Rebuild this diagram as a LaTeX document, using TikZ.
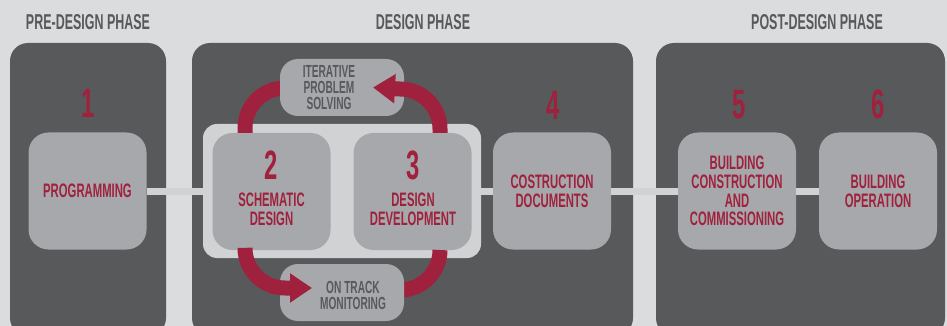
\documentclass[tikz,border=0pt]{standalone}
\usepackage{fontspec}
\setmainfont{Liberation Sans}[FakeStretch=0.58]
\usetikzlibrary{arrows.meta}
\definecolor{bgc}{RGB}{219,220,222}
\definecolor{paneldark}{RGB}{88,89,91}
\definecolor{boxgray}{RGB}{167,168,171}
\definecolor{framegray}{RGB}{209,210,212}
\definecolor{dred}{RGB}{160,33,62}
\definecolor{conngray}{RGB}{209,210,212}
\tikzset{
  panel/.style={fill=paneldark, rounded corners=18pt, inner sep=0pt},
  head/.style={text=paneldark, font=\bfseries\fontsize{21.5}{21.5}\selectfont, inner sep=0pt},
  bigbox/.style={fill=boxgray, rounded corners=20pt, minimum width=118pt, minimum height=117pt,
    inner sep=0pt, text=dred, align=center, font=\bfseries\fontsize{19.5}{18.8}\selectfont},
  boxtext/.style={text=dred, align=center, inner sep=0pt, font=\bfseries\fontsize{19.5}{19}\selectfont},
  num/.style={text=dred, inner sep=0pt, font=\bfseries\fontsize{41}{41}\selectfont},
  framebox/.style={fill=framegray, rounded corners=14pt, minimum width=278pt, minimum height=134pt, inner sep=0pt},
  smallbox/.style={fill=boxgray, rounded corners=18pt, minimum width=124pt, minimum height=57pt, inner sep=0pt},
  smalltext/.style={text=paneldark, align=center, inner sep=0pt, font=\bfseries\fontsize{17.5}{16}\selectfont},
  conn/.style={draw=conngray, line width=7pt},
  loopline/.style={draw=dred, line width=15pt, line cap=butt},
  looparrow/.style={loopline, -{Triangle[length=22pt,width=28pt]}}
}
\begin{document}
\begin{tikzpicture}[x=1pt,y=-1pt]
\useasboundingbox (0,0) rectangle (947,326);
\clip (0,0) rectangle (947,326);
\fill[bgc] (0,0) rectangle (947,326);

% phase panels
\node[panel, minimum width=156pt, minimum height=293pt] (p1) at (88,189.5) {};
\node[panel, minimum width=441pt, minimum height=293pt] (p2) at (412.5,189.5) {};
\node[panel, minimum width=289pt, minimum height=293pt] (p3) at (800.5,189.5) {};

% headers
\node[head] (h1) at (88,22) {PRE-DESIGN PHASE};
\node[head] (h2) at (423,22) {DESIGN PHASE};
\node[head] (h3) at (817,22) {POST-DESIGN PHASE};

% frame around 2 and 3
\node[framebox] (frame) at (342,191) {};

% boxes
\node[bigbox] (prog) at (87.5,191) {PROGRAMMING};
\node[bigbox] (b2) at (271.5,191.5) {};
\node[bigbox] (b3) at (412.5,191.5) {};
\node[bigbox] (b4) at (552,191) {COSTRUCTION\\DOCUMENTS};
\node[bigbox] (b5) at (737,191) {BUILDING\\CONSTRUCTION\\AND\\COMMISSIONING};
\node[bigbox] (b6) at (878,191) {BUILDING\\OPERATION};

% numbers
\node[num] (n1) at (88,103) {1};
\node[num] (n2) at (271,165) {2};
\node[num] (n3) at (413,165) {3};
\node[num] (n4) at (553,105) {4};
\node[num] (n5) at (739,104.5) {5};
\node[num] (n6) at (878,104.5) {6};

\node[boxtext] (t2) at (271.5,209.5) {SCHEMATIC\\DESIGN};
\node[boxtext] (t3) at (413,209.5) {DESIGN\\DEVELOPMENT};

% connectors
\draw[conn] (prog.east) -- (frame.west);
\draw[conn] (frame.east) -- (b4.west);
\draw[conn] (b4.east) -- (b5.west);
\draw[conn] (b5.east) -- (b6.west);

% loop coordinates
\coordinate (c2t) at (245,133);
\coordinate (c2b) at (245,250);
\coordinate (c3t) at (440,133);
\coordinate (c3b) at (440,250);
\coordinate (itL) at (285,88);
\coordinate (otR) at (400,290);

% plain loop parts (ending under the small boxes)
\draw[loopline] (c2t) -- (245,128) arc[start angle=180, end angle=270, radius=40] -- (itL);
\draw[loopline] (c3b) -- (440,250) arc[start angle=0, end angle=90, radius=40] -- (otR);

% small boxes
\node[smallbox] (iter) at (342,87.5) {};
\node[smallbox] (ontrack) at (342,292.5) {};
\node[smalltext] (itert) at (329,88) {ITERATIVE\\PROBLEM\\SOLVING};
\node[smalltext] (ontrackt) at (353,295) {ON TRACK\\MONITORING};

% arrow loop parts
\draw[looparrow] (c3t) -- (440,129) arc[start angle=0, end angle=-90, radius=40] -- (iter.east -| 373,0);
\draw[looparrow] (c2b) -- (245,248) arc[start angle=180, end angle=90, radius=40] -- (312,288);
\end{tikzpicture}
\end{document}
